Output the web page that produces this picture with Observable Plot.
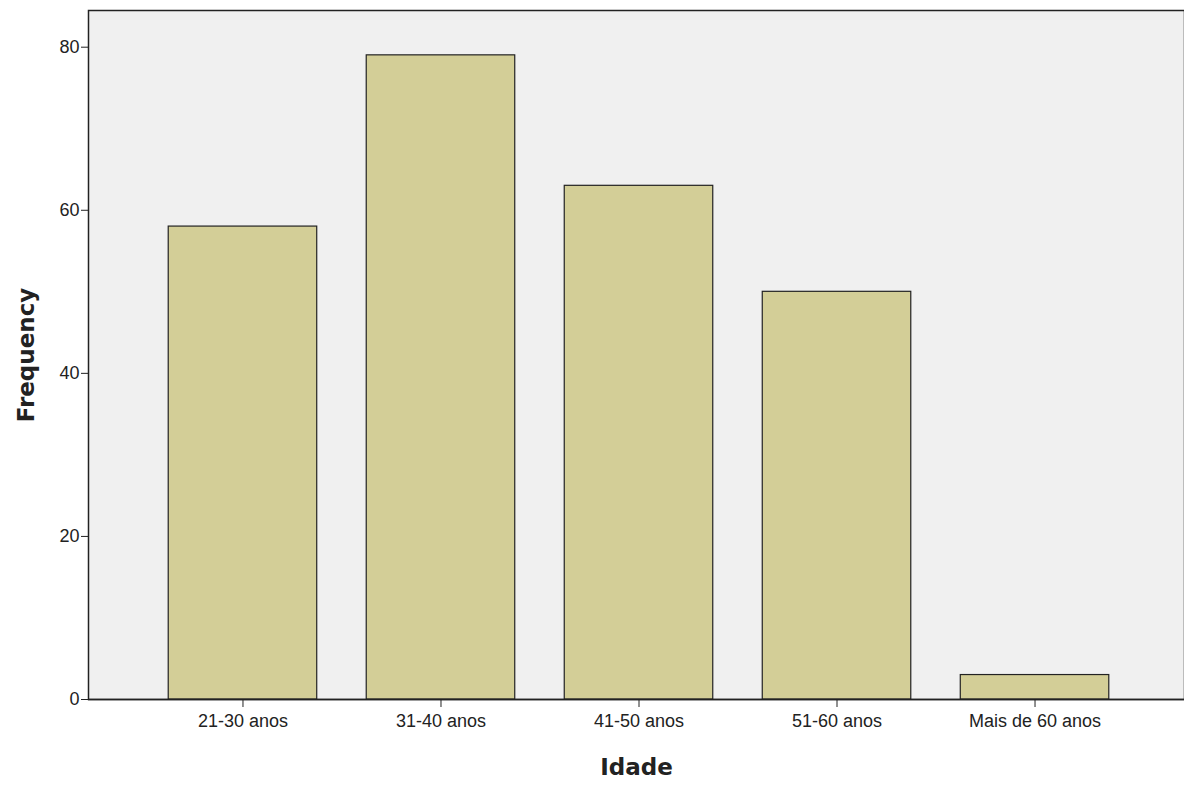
<!DOCTYPE html>
<html>
<head>
<meta charset="utf-8">
<script src="https://cdn.jsdelivr.net/npm/d3@7"></script>
<script src="https://cdn.jsdelivr.net/npm/@observablehq/plot@0.6"></script>
<style>
  body { margin: 0; background: white; }
</style>
</head>
<body>
<div id="chart"></div>
<script>
const categorias = ["21-30 anos", "31-40 anos", "41-50 anos", "51-60 anos", "Mais de 60 anos"];
const frequencias = [58, 79, 63, 50, 3];
const ticksY = [0, 20, 40, 60, 80];

const datos = categorias.map((c, i) => ({ idade: c, freq: frequencias[i] }));

const plot = Plot.plot({
  width: 1184,
  height: 797,
  marginTop: 10,
  marginLeft: 88,
  marginRight: 0,
  marginBottom: 98,
  style: { fontFamily: "Liberation Sans, Arial, sans-serif", fontSize: "18px", color: "#222" },
  x: { domain: categorias, range: [90, 1187], paddingInner: 0.25, paddingOuter: 0.395, round: false, label: null },
  y: { domain: [0, 84.5], label: null },
  marks: [
    Plot.frame({ fill: "#f0f0f0", stroke: "#222", strokeWidth: 1.5 }),
    Plot.barY(datos, { x: "idade", y: "freq", fill: "#d3ce97", stroke: "#222", strokeWidth: 1.2 }),
    Plot.ruleY([0], { stroke: "#222", strokeWidth: 1.5 }),
    Plot.axisY(ticksY, { tickSize: 7, tickPadding: 2, stroke: "#222", fontSize: 18, letterSpacing: 0.3 }),
    Plot.axisX({ tickSize: 8, tickPadding: 7, stroke: "#222", fontSize: 18, letterSpacing: 0.3 }),
    Plot.text(["Frequency"], { frameAnchor: "left", dx: -62, rotate: -90, textAnchor: "middle", fontFamily: "DejaVu Sans", fontWeight: "bold", fontSize: 23 }),
    Plot.text(["Idade"], { frameAnchor: "bottom", dy: 75, fontFamily: "DejaVu Sans", fontWeight: "bold", fontSize: 23 })
  ]
});

document.querySelector("#chart").appendChild(plot);
</script>
</body>
</html>
